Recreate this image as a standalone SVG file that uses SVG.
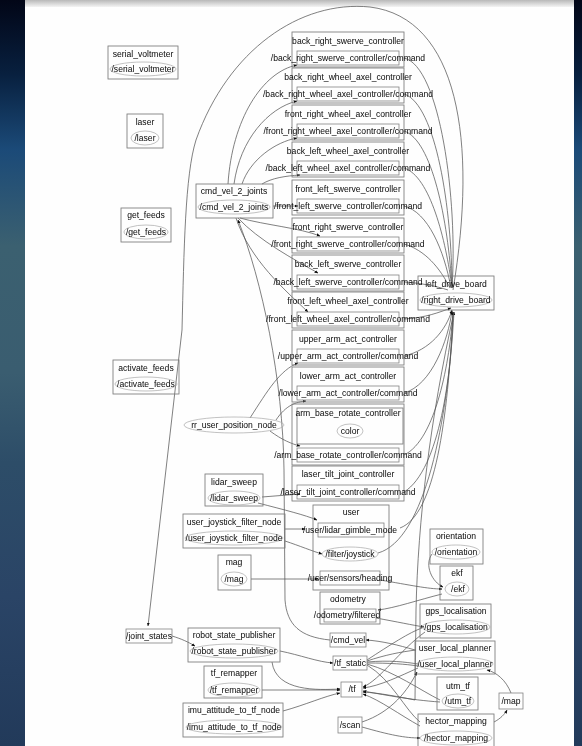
<svg xmlns="http://www.w3.org/2000/svg" width="582" height="746" viewBox="0 0 582 746">
<defs>
<linearGradient id="bg" x1="0" y1="0" x2="0" y2="1">
<stop offset="0" stop-color="#020617"/>
<stop offset="0.1" stop-color="#08203f"/>
<stop offset="0.2" stop-color="#1b4a78"/>
<stop offset="0.33" stop-color="#3b6070"/>
<stop offset="0.5" stop-color="#3a5d70"/>
<stop offset="0.62" stop-color="#2d4d68"/>
<stop offset="0.8" stop-color="#2a4466"/>
<stop offset="1" stop-color="#223a5a"/>
</linearGradient>
<linearGradient id="bar" x1="0" y1="0" x2="0" y2="1">
<stop offset="0" stop-color="#b8b8b8"/>
<stop offset="1" stop-color="#f4f4f4"/>
</linearGradient>
<marker id="arr" viewBox="0 0 10 10" refX="9" refY="5" markerWidth="5" markerHeight="5" orient="auto">
<path d="M0,1 L10,5 L0,9 z" fill="#111"/>
</marker>
<filter id="soft" x="-5%" y="-5%" width="110%" height="110%"><feGaussianBlur stdDeviation="0.45"/></filter>
<style>
text{font-family:"Liberation Sans",Arial,sans-serif;font-size:8.6px;fill:#0a0a0a;text-anchor:middle}
.cl{fill:none;stroke:#7a7a7a;stroke-width:0.85}
.tp{fill:none;stroke:#7a7a7a;stroke-width:0.75}
.nd{fill:none;stroke:#a8a8a8;stroke-width:0.7}
#edges path{fill:none;stroke:#555;stroke-width:0.75}
#edges path.a{marker-end:url(#arr)}
</style>
</defs>
<rect width="582" height="746" fill="url(#bg)"/>
<rect x="25" y="0" width="549" height="7" fill="url(#bar)"/>
<rect x="25" y="7" width="549" height="739" fill="#fefefe"/>
<g filter="url(#soft)">
<g id="edges">
<path class="a" d="M453,290 C478,140 458,18 370,7 C300,0 228,50 196,140 C185,175 184,250 182,330 L148,626"/>
<path class="a" d="M228,184 C232,120 262,72 297,65"/>
<path class="a" d="M234,184 C240,140 268,108 297,101"/>
<path class="a" d="M242,184 C250,160 275,142 297,138"/>
<path class="a" d="M262,184 C272,178 285,176 300,175"/>
<path class="a" d="M273,206 L298,206"/>
<path class="a" d="M240,218 C265,225 300,228 320,236"/>
<path class="a" d="M238,218 C258,240 295,260 318,273"/>
<path class="a" d="M236,218 C250,260 285,290 308,312"/>
<path d="M404,58 C440,66 458,200 452,288"/>
<path d="M404,94 C436,104 452,210 452,288"/>
<path d="M404,131 C432,140 448,220 452,288"/>
<path d="M404,168 C430,176 446,240 452,288"/>
<path d="M404,206 C428,212 444,250 451,288"/>
<path d="M404,244 C425,250 440,268 450,288"/>
<path d="M404,282 C420,283 436,286 448,290"/>
<path class="a" d="M404,319 C425,318 440,312 451,308"/>
<path class="a" d="M404,356 C430,350 446,330 452,310"/>
<path class="a" d="M404,393 C432,385 448,340 452,311"/>
<path class="a" d="M404,455 C436,440 450,360 453,312"/>
<path class="a" d="M404,492 C440,470 452,370 453,312"/>
<path class="a" d="M400,528 C435,515 448,420 453,312"/>
<path class="a" d="M378,553 C425,540 448,420 454,312"/>
<path d="M454,312 C430,420 418,520 416,610 L415,700"/>
<path class="a" d="M250,418 C268,390 280,370 298,363"/>
<path class="a" d="M276,420 C286,405 296,402 306,401"/>
<path class="a" d="M270,431 C282,440 292,444 300,446"/>
<path class="a" d="M330,640 C300,637 287,625 285,600 L284,470 C283,380 262,280 238,220"/>
<path class="a" d="M262,497 L300,494"/>
<path class="a" d="M258,503 C285,510 305,515 317,520"/>
<path class="a" d="M285,529 L305,529"/>
<path class="a" d="M285,541 C300,546 312,551 322,554"/>
<path class="a" d="M251,579 L318,579"/>
<path class="a" d="M380,580 C410,585 428,589 442,589"/>
<path class="a" d="M432,554 C424,565 432,582 443,587"/>
<path class="a" d="M442,594 C418,600 395,608 378,610"/>
<path class="a" d="M376,618 C398,622 412,625 424,627"/>
<path class="a" d="M172,636 C182,639 188,642 195,646"/>
<path class="a" d="M280,651 C300,655 318,662 333,663"/>
<path class="a" d="M272,662 C276,692 318,690 340,689"/>
<path class="a" d="M262,690 L340,690"/>
<path class="a" d="M283,711 C305,705 325,696 340,693"/>
<path class="a" d="M415,650 C398,645 382,641 366,640"/>
<path d="M367,661 C385,655 400,652 416,650"/>
<path d="M367,662 C390,660 405,662 418,664"/>
<path d="M367,663 C390,663 405,664 418,666"/>
<path d="M367,664 C395,672 420,690 440,700"/>
<path d="M367,665 C392,680 405,710 420,722"/>
<path d="M367,660 C390,645 410,632 422,628"/>
<path class="a" d="M418,668 C400,676 380,686 363,688"/>
<path class="a" d="M440,702 C410,700 380,694 363,691"/>
<path class="a" d="M420,726 C400,715 380,700 363,694"/>
<path class="a" d="M425,632 C400,650 380,680 363,687"/>
<path class="a" d="M415,700 C400,697 380,693 363,692"/>
<path class="a" d="M362,727 C390,735 405,738 420,738"/>
<path class="a" d="M362,722 C392,712 408,690 417,672"/>
<path class="a" d="M494,722 C500,719 505,714 507,710"/>
<path class="a" d="M511,693 C506,680 496,672 487,670"/>
</g>

<g id="serial_voltmeter"><rect class="cl" x="108" y="46" width="70" height="33"/><text x="143" y="57">serial_voltmeter</text><ellipse class="nd" cx="143" cy="69" rx="33" ry="7"/><text x="143" y="72">/serial_voltmeter</text></g>
<g id="laser"><rect class="cl" x="127" y="114" width="36" height="34"/><text x="145" y="125">laser</text><ellipse class="nd" cx="145" cy="138" rx="14" ry="7"/><text x="145" y="141">/laser</text></g>
<g id="get_feeds"><rect class="cl" x="121" y="208" width="50" height="34"/><text x="146" y="218">get_feeds</text><ellipse class="nd" cx="146" cy="232" rx="22" ry="7"/><text x="146" y="235">/get_feeds</text></g>
<g id="activate_feeds"><rect class="cl" x="113" y="360" width="66" height="34"/><text x="146" y="371">activate_feeds</text><ellipse class="nd" cx="146" cy="384" rx="31" ry="7"/><text x="146" y="387">/activate_feeds</text></g>
<g id="joint_states"><rect class="tp" x="126" y="629" width="46" height="14"/><text x="149" y="639">/joint_states</text></g>
<g id="cmd_vel_2_joints"><rect class="cl" x="196" y="184" width="77" height="34"/><text x="234" y="194">cmd_vel_2_joints</text><ellipse class="nd" cx="234" cy="207" rx="36" ry="7"/><text x="234" y="210">/cmd_vel_2_joints</text></g>
<g id="rr_user_position_node"><ellipse class="nd" cx="234" cy="425" rx="50" ry="8"/><text x="234" y="428">rr_user_position_node</text></g>
<g id="lidar_sweep"><rect class="cl" x="205" y="474" width="58" height="32"/><text x="234" y="485">lidar_sweep</text><ellipse class="nd" cx="234" cy="498" rx="26" ry="7"/><text x="234" y="501">/lidar_sweep</text></g>
<g id="user_joystick_filter_node"><rect class="cl" x="183" y="514" width="102" height="34"/><text x="234" y="525">user_joystick_filter_node</text><ellipse class="nd" cx="234" cy="538" rx="49" ry="7"/><text x="234" y="541">/user_joystick_filter_node</text></g>
<g id="mag"><rect class="cl" x="218" y="555" width="33" height="35"/><text x="234" y="565">mag</text><ellipse class="nd" cx="234" cy="579" rx="13" ry="7"/><text x="234" y="582">/mag</text></g>
<g id="robot_state_publisher"><rect class="cl" x="188" y="628" width="92" height="34"/><text x="234" y="638">robot_state_publisher</text><ellipse class="nd" cx="234" cy="651" rx="44" ry="7"/><text x="234" y="654">/robot_state_publisher</text></g>
<g id="tf_remapper"><rect class="cl" x="204" y="666" width="58" height="32"/><text x="234" y="676">tf_remapper</text><ellipse class="nd" cx="234" cy="690" rx="26" ry="7"/><text x="234" y="693">/tf_remapper</text></g>
<g id="imu_attitude_to_tf_node"><rect class="cl" x="183" y="703" width="100" height="34"/><text x="234" y="713">imu_attitude_to_tf_node</text><ellipse class="nd" cx="234" cy="727" rx="48" ry="7"/><text x="234" y="730">/imu_attitude_to_tf_node</text></g>

<g id="back_right_swerve_controller"><rect class="cl" x="292" y="32" width="112" height="35"/><text x="348" y="44">back_right_swerve_controller</text><rect class="tp" x="297" y="51" width="102" height="14"/><text x="348" y="61">/back_right_swerve_controller/command</text></g>
<g id="back_right_wheel_axel_controller"><rect class="cl" x="292" y="68" width="112" height="35"/><text x="348" y="80">back_right_wheel_axel_controller</text><rect class="tp" x="297" y="87" width="102" height="14"/><text x="348" y="97">/back_right_wheel_axel_controller/command</text></g>
<g id="front_right_wheel_axel_controller"><rect class="cl" x="292" y="105" width="112" height="35"/><text x="348" y="117">front_right_wheel_axel_controller</text><rect class="tp" x="297" y="124" width="102" height="14"/><text x="348" y="134">/front_right_wheel_axel_controller/command</text></g>
<g id="back_left_wheel_axel_controller"><rect class="cl" x="292" y="142" width="112" height="35"/><text x="348" y="154">back_left_wheel_axel_controller</text><rect class="tp" x="297" y="161" width="102" height="14"/><text x="348" y="171">/back_left_wheel_axel_controller/command</text></g>
<g id="front_left_swerve_controller"><rect class="cl" x="292" y="180" width="112" height="35"/><text x="348" y="192">front_left_swerve_controller</text><rect class="tp" x="297" y="199" width="102" height="14"/><text x="348" y="209">/front_left_swerve_controller/command</text></g>
<g id="front_right_swerve_controller"><rect class="cl" x="292" y="218" width="112" height="35"/><text x="348" y="230">front_right_swerve_controller</text><rect class="tp" x="297" y="237" width="102" height="14"/><text x="348" y="247">/front_right_swerve_controller/command</text></g>
<g id="back_left_swerve_controller"><rect class="cl" x="292" y="255" width="112" height="36"/><text x="348" y="267">back_left_swerve_controller</text><rect class="tp" x="297" y="275" width="102" height="14"/><text x="348" y="285">/back_left_swerve_controller/command</text></g>
<g id="front_left_wheel_axel_controller"><rect class="cl" x="292" y="292" width="112" height="36"/><text x="348" y="304">front_left_wheel_axel_controller</text><rect class="tp" x="297" y="312" width="102" height="14"/><text x="348" y="322">/front_left_wheel_axel_controller/command</text></g>
<g id="upper_arm_act_controller"><rect class="cl" x="292" y="330" width="112" height="35"/><text x="348" y="342">upper_arm_act_controller</text><rect class="tp" x="297" y="349" width="102" height="14"/><text x="348" y="359">/upper_arm_act_controller/command</text></g>
<g id="lower_arm_act_controller"><rect class="cl" x="292" y="367" width="112" height="35"/><text x="348" y="379">lower_arm_act_controller</text><rect class="tp" x="297" y="386" width="102" height="14"/><text x="348" y="396">/lower_arm_act_controller/command</text></g>
<g id="arm_base_rotate_controller"><rect class="cl" x="292" y="404" width="112" height="61"/><rect class="cl" x="297" y="408" width="106" height="36"/><text x="348" y="416">arm_base_rotate_controller</text><ellipse class="nd" cx="350" cy="431" rx="13" ry="7"/><text x="350" y="434">color</text><rect class="tp" x="297" y="448" width="102" height="14"/><text x="348" y="458">/arm_base_rotate_controller/command</text></g>
<g id="laser_tilt_joint_controller"><rect class="cl" x="292" y="466" width="112" height="35"/><text x="348" y="477">laser_tilt_joint_controller</text><rect class="tp" x="297" y="485" width="102" height="14"/><text x="348" y="495">/laser_tilt_joint_controller/command</text></g>

<g id="user"><rect class="cl" x="313" y="505" width="76" height="85"/><text x="351" y="515">user</text><rect class="tp" x="318" y="523" width="66" height="14"/><text x="350" y="533">/user/lidar_gimble_mode</text><ellipse class="nd" cx="350" cy="554" rx="28" ry="7"/><text x="350" y="557">/filter/joystick</text><rect class="tp" x="320" y="571" width="60" height="14"/><text x="350" y="581">/user/sensors/heading</text></g>
<g id="odometry"><rect class="cl" x="320" y="592" width="60" height="32"/><text x="348" y="602">odometry</text><rect class="tp" x="324" y="609" width="52" height="13"/><text x="347" y="618">/odometry/filtered</text></g>
<g id="cmd_vel"><rect class="tp" x="330" y="633" width="36" height="14"/><text x="348" y="643">/cmd_vel</text></g>
<g id="tf_static"><rect class="tp" x="333" y="656" width="34" height="14"/><text x="350" y="666">/tf_static</text></g>
<g id="tf"><rect class="tp" x="341" y="682" width="21" height="15"/><text x="352" y="692">/tf</text></g>
<g id="scan"><rect class="tp" x="338" y="717" width="24" height="16"/><text x="350" y="728">/scan</text></g>

<g id="drive_board"><rect class="cl" x="418" y="276" width="76" height="34"/><text x="456" y="287">left_drive_board</text><ellipse class="nd" cx="456" cy="300" rx="36" ry="7"/><text x="456" y="303">/right_drive_board</text></g>
<g id="orientation"><rect class="cl" x="430" y="529" width="53" height="35"/><text x="456" y="539">orientation</text><ellipse class="nd" cx="456" cy="552" rx="24" ry="7"/><text x="456" y="555">/orientation</text></g>
<g id="ekf"><rect class="cl" x="440" y="566" width="33" height="34"/><text x="457" y="576">ekf</text><ellipse class="nd" cx="457" cy="589" rx="12" ry="7"/><text x="458" y="592">/ekf</text></g>
<g id="gps_localisation"><rect class="cl" x="420" y="604" width="71" height="34"/><text x="456" y="614">gps_localisation</text><ellipse class="nd" cx="456" cy="627" rx="34" ry="7"/><text x="456" y="630">/gps_localisation</text></g>
<g id="user_local_planner"><rect class="cl" x="415" y="641" width="80" height="33"/><text x="455" y="651">user_local_planner</text><ellipse class="nd" cx="455" cy="664" rx="38" ry="7"/><text x="455" y="667">/user_local_planner</text></g>
<g id="utm_tf"><rect class="cl" x="437" y="677" width="41" height="33"/><text x="458" y="689">utm_tf</text><ellipse class="nd" cx="458" cy="701" rx="16" ry="7"/><text x="458" y="704">/utm_tf</text></g>
<g id="map"><rect class="tp" x="499" y="693" width="24" height="16"/><text x="511" y="704">/map</text></g>
<g id="hector_mapping"><rect class="cl" x="418" y="714" width="76" height="34"/><text x="456" y="724">hector_mapping</text><ellipse class="nd" cx="456" cy="738" rx="36" ry="7"/><text x="456" y="741">/hector_mapping</text></g>
</g>
</svg>
